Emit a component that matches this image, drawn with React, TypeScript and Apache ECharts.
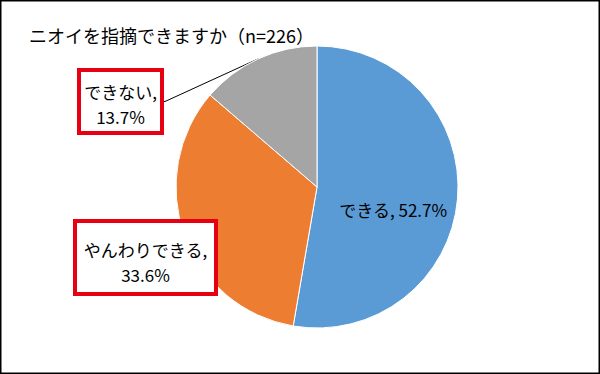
import React, { useEffect, useRef } from "react";
import * as echarts from "echarts";

const titleText = "ニオイを指摘できますか（n=226）";
const categories = ["できる", "やんわりできる", "できない"];
const values = [52.7, 33.6, 13.7];
const colors = ["#5B9BD5", "#ED7D31", "#A5A5A5"];

const FONT = "'Noto Sans CJK JP', 'Noto Sans', sans-serif";

export default function App() {
  const ref = useRef<HTMLDivElement>(null);
  useEffect(() => {
    if (!ref.current) return;
    const chart = echarts.init(ref.current, undefined, { renderer: "svg", width: 600, height: 374 });
    const data = categories.map((name, i) => {
      const item: any = { name, value: values[i], itemStyle: { color: colors[i] } };
      if (i === 0) {
        item.label = {
          position: "inside",
          formatter: (p: any) => `${p.name}, ${p.value}%`,
          offset: [3, 16],
        };
        item.labelLine = { show: false };
      } else if (i === 1) {
        item.label = {
          position: "outside",
          formatter: (p: any) => `${p.name},\n${p.value}%`,
          borderColor: "#E60012",
          borderWidth: 4,
          padding: [14, 4, 5, 4],
          width: 129,
          overflow: "none",
          backgroundColor: "#fff",
        };
        item.labelLine = { show: false };
      } else {
        item.label = {
          position: "outside",
          formatter: (p: any) => `${p.name},\n${p.value}%`,
          borderColor: "#E60012",
          borderWidth: 4,
          padding: [7, 2, 2, 2],
          width: 75,
          overflow: "none",
          backgroundColor: "#fff",
        };
        item.labelLine = { show: true, length: 1, length2: 1, lineStyle: { color: "#000", width: 1 } };
      }
      return item;
    });
    chart.setOption({
      animation: false,
      backgroundColor: "#fff",
      title: {
        text: titleText,
        left: 24,
        top: 21,
        textStyle: { fontFamily: FONT, fontSize: 18, fontWeight: "normal", color: "#000" },
      },
      graphic: [
        {
          type: "rect",
          shape: { x: 0.75, y: 0.75, width: 598.5, height: 372.5 },
          style: { fill: "none", stroke: "#000", lineWidth: 1.5 },
          silent: true,
        },
      ],
      series: [
        {
          type: "pie",
          center: [317, 187],
          radius: 141,
          startAngle: 90,
          clockwise: true,
          avoidLabelOverlap: false,
          itemStyle: { borderColor: "#fff", borderWidth: 1 },
          label: {
            show: true,
            fontFamily: FONT,
            fontSize: 17,
            color: "#000",
            lineHeight: 25,
            align: "center",
          },
          labelLayout: (params: any) => {
            if (params.dataIndex === 1) {
              return { x: 145.5, y: 223, align: "center", verticalAlign: "top" };
            }
            if (params.dataIndex === 2) {
              return { x: 120.5, y: 72, align: "center", verticalAlign: "top" };
            }
            return {};
          },
          data,
        },
      ],
    });
    return () => chart.dispose();
  }, []);
  return (
    <div
      ref={ref}
      style={{ position: "fixed", left: 0, top: 0, width: 600, height: 374 }}
    />
  );
}
